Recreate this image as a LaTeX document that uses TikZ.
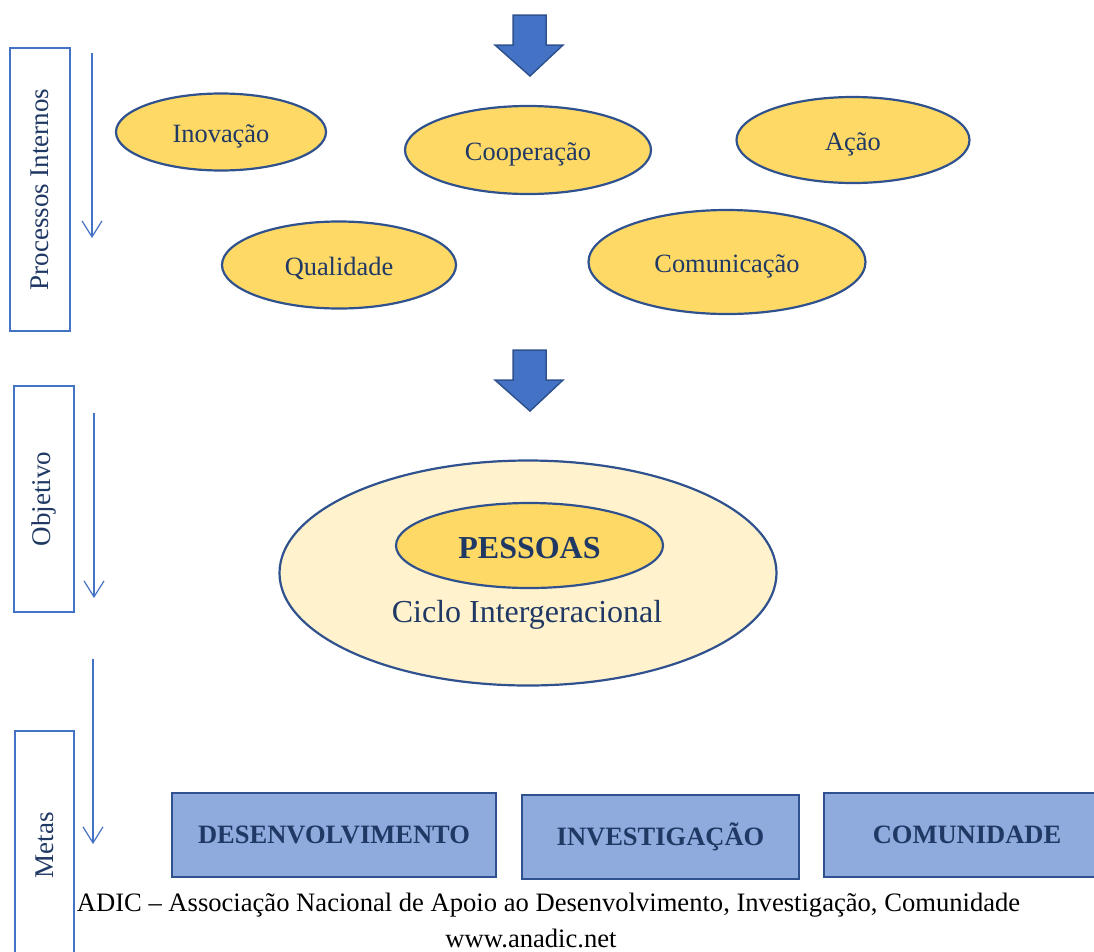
\documentclass[tikz,border=0pt]{standalone}
\usepackage{fontspec}
\setmainfont{Liberation Serif}
\usetikzlibrary{shapes.geometric,arrows.meta}
\definecolor{navy}{HTML}{1F3864}
\definecolor{edgeblue}{HTML}{2F528F}
\definecolor{gold}{HTML}{FFD966}
\definecolor{cream}{HTML}{FFF2CC}
\definecolor{accent}{HTML}{4472C4}
\definecolor{boxfill}{HTML}{8FAADC}
\begin{document}
\begin{tikzpicture}[x=1pt,y=-1pt,
  oval/.style={ellipse, draw=edgeblue, line width=2.2pt, fill=gold, inner sep=0pt, text=navy, text height=20pt, text depth=0pt, font=\fontsize{26.4}{30}\selectfont},
  sidebox/.style={rotate=90, draw=accent, line width=2.6pt, fill=white, inner sep=0pt, text=navy, font=\fontsize{27}{30}\selectfont},
  goal/.style={draw=edgeblue, line width=2.4pt, fill=boxfill, text=navy, inner sep=0pt, font=\bfseries\fontsize{26.5}{30}\selectfont},
  flow/.style={draw=accent, line width=1.2pt, -{Straight Barb[length=16pt,width=20pt,line width=1.2pt]}},
  blockarrow/.style={fill=accent, draw=edgeblue, line width=1.5pt, line join=miter},
  foot/.style={text=black, inner sep=0pt, font=\fontsize{26.6}{30}\selectfont}]
\useasboundingbox (0,0) rectangle (1094,951);
\clip (0,0) rectangle (1094,951);

% block arrows
\draw[blockarrow] (513,15) -- (546,15) -- (546,45) -- (563,45) -- (530,76) -- (495,45) -- (513,45) -- cycle;
\draw[blockarrow] (513,350) -- (546,350) -- (546,380) -- (563,380) -- (530,411) -- (495,380) -- (513,380) -- cycle;

% side labels
\node[sidebox, minimum width=283pt, minimum height=60pt] (proc) at (40,189.5) {Processos Internos};
\node[sidebox, minimum width=226pt, minimum height=60pt] (obj) at (44,499) {Objetivo};
\node[sidebox, minimum width=228pt, minimum height=59pt] (metas) at (44.5,845) {Metas};

% flow arrows
\coordinate (f1a) at (92,53);  \coordinate (f1b) at (92,238);
\coordinate (f2a) at (94,413); \coordinate (f2b) at (94,598);
\coordinate (f3a) at (93,659); \coordinate (f3b) at (93,844);
\draw[flow] (f1a) -- (f1b);
\draw[flow] (f2a) -- (f2b);
\draw[flow] (f3a) -- (f3b);

% process ellipses
\node[oval, minimum width=210pt, minimum height=77pt] (inov) at (221,132) {Inovação};
\node[oval, minimum width=246pt, minimum height=88pt] (coop) at (528,150) {Cooperação};
\node[oval, minimum width=233pt, minimum height=86pt] (acao) at (853,140) {Ação};
\node[oval, minimum width=234pt, minimum height=87pt] (qual) at (339,265) {Qualidade};
\node[oval, minimum width=277pt, minimum height=104pt] (comu) at (727,262) {Comunicação};

% objective
\node[oval, fill=cream, minimum width=497pt, minimum height=225pt] (ciclo) at (528,573) {};
\node[oval, minimum width=267pt, minimum height=85pt, text height=25pt, font=\bfseries\fontsize{32}{36}\selectfont] (pess) at (529.5,545.5) {PESSOAS};
\node[text=navy, inner sep=0pt, font=\fontsize{32}{36}\selectfont] (cicl) at (527,615) {Ciclo Intergeracional};

% goals
\node[goal, minimum width=324pt, minimum height=84pt] (desenv) at (334,835) {DESENVOLVIMENTO};
\node[goal, minimum width=277pt, minimum height=84pt] (invest) at (660.5,837) {INVESTIGAÇÃO};
\node[goal, minimum width=286pt, minimum height=84pt] (comun) at (967,835) {COMUNIDADE};

% footer
\node[foot] (adic) at (548.5,905) {ADIC – Associação Nacional de Apoio ao Desenvolvimento, Investigação, Comunidade};
\node[foot] (www) at (531,938) {www.anadic.net};
\end{tikzpicture}
\end{document}
